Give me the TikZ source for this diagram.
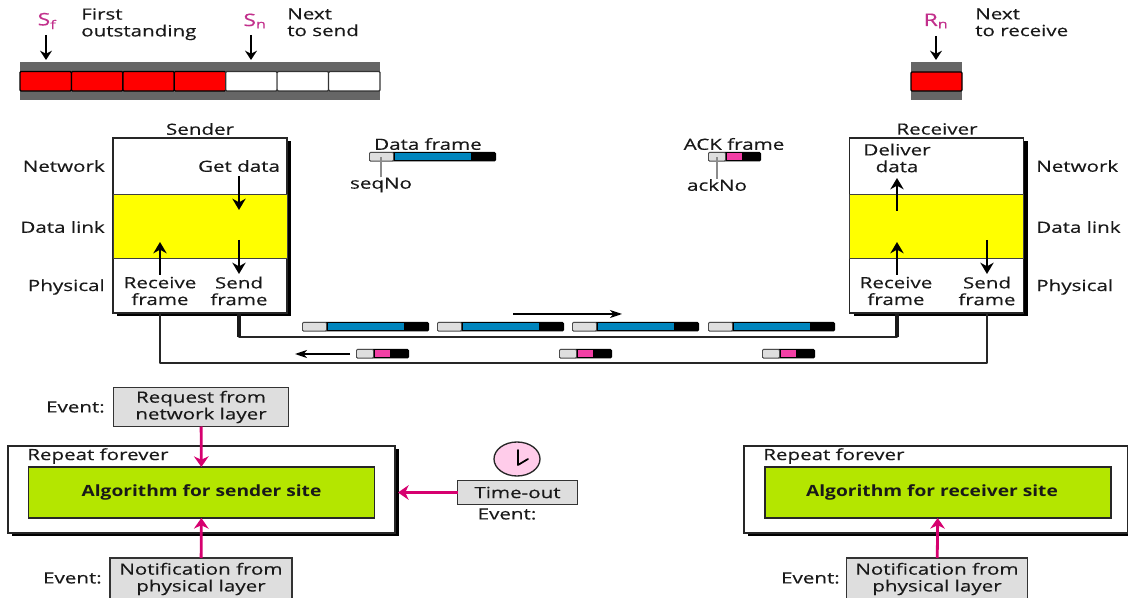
\documentclass[tikz,border=0pt]{standalone}
\usepackage{fontspec}
\setmainfont{Open Sans}[FakeStretch=1.33, FakeBold=0.35, BoldFeatures={FakeStretch=1.24, FakeBold=0}]
\usetikzlibrary{arrows.meta,shadows,shapes.geometric}

\definecolor{barGray}{HTML}{666666}
\definecolor{boxGray}{HTML}{DEDEDE}
\definecolor{algoGreen}{HTML}{B4E600}
\definecolor{frameBlue}{HTML}{0085BD}
\definecolor{framePink}{HTML}{F23FA5}
\definecolor{eventRed}{HTML}{D6006F}
\definecolor{seqMagenta}{HTML}{C2308C}
\definecolor{clockPink}{HTML}{FFCCEA}
\definecolor{layerYellow}{HTML}{FFFF00}
\definecolor{cellRed}{HTML}{FF0000}

\tikzset{
    sized/.style 2 args={minimum width=#1*0.75pt, minimum height=#2*0.75pt, inner sep=0pt, outer sep=0pt},
    lbl/.style={inner sep=0pt, align=center, text=black!90, font=\fontsize{11.6}{12.6}\selectfont},
    seqlbl/.style={inner sep=0pt, text=seqMagenta, font=\fontsize{13}{14}\selectfont},
    cell/.style={draw=black, line width=0.9pt, rounded corners=0.8pt},
    layerbox/.style={draw=black!85, line width=1pt, fill=white, general shadow={shadow xshift=3pt, shadow yshift=-2.4pt, fill=black}},
    band/.style={draw=black!75, line width=0.6pt, fill=layerYellow},
    eventbox/.style={draw=black!80, line width=1pt, fill=boxGray, align=center, text=black!90, font=\fontsize{11.6}{12.6}\selectfont},
    algobox/.style={draw=black!85, line width=1pt, fill=algoGreen, text=black!90, font=\fontsize{11.6}{13}\selectfont\bfseries},
    flow/.style={line width=1.3pt, -{Stealth[length=8.5pt, width=10pt]}},
    pointer/.style={line width=1.1pt, -{Stealth[length=7pt, width=9pt]}},
    travel/.style={line width=1pt, -{Stealth[length=9pt, width=6pt, inset=2.5pt]}},
    eventflow/.style={eventRed, line width=2.1pt, -{Stealth[length=8pt, width=11pt]}},
    wire/.style={draw=black!85, line width=1.6pt, line join=round},
    stub/.style={draw=black!90, line width=2.4pt},
    tick/.style={draw=black!45, line width=1pt},
}

\newcommand{\dataframe}[2]{
    \fill[black, rounded corners=1pt] (#1,#2) rectangle ++(127,9.5);
    \filldraw[fill=boxGray, draw=black!70, line width=0.6pt, rounded corners=0.8pt] (#1+0.5,#2+0.5) rectangle ++(24,8.5);
    \fill[frameBlue] (#1+26,#2+1) rectangle ++(76,7.5);
}
\newcommand{\ackframe}[2]{
    \fill[black, rounded corners=1pt] (#1,#2) rectangle ++(53,9.5);
    \filldraw[fill=boxGray, draw=black!70, line width=0.6pt, rounded corners=0.8pt] (#1+0.5,#2+0.5) rectangle ++(17,8.5);
    \fill[framePink] (#1+19,#2+1) rectangle ++(15,7.5);
}

\begin{document}
\begin{tikzpicture}[x=0.75pt, y=-0.75pt]
    \useasboundingbox (0,0) rectangle (1128,598);

    \fill[barGray] (20,62) rectangle (380,100);
    \fill[barGray] (911,62) rectangle (962,100);
    \foreach \x in {20,71.4,122.9,174.3} {
        \filldraw[cell, fill=cellRed] (\x,71.5) rectangle ++(51.4,19.5);
    }
    \foreach \x in {225.7,277.1,328.6} {
        \filldraw[cell, draw=black!80, fill=white] (\x,71.5) rectangle ++(51.4,19.5);
    }
    \filldraw[cell, fill=cellRed] (911,72) rectangle (962,91);

    \node[seqlbl] (sf) at (47,21) {S\textsubscript{f}};
    \node[seqlbl] (sn) at (255,21) {S\textsubscript{n}};
    \node[seqlbl] (rn) at (936,21) {R\textsubscript{n}};
    \coordinate (sfhead) at (46,60);
    \coordinate (snhead) at (251,60);
    \coordinate (rnhead) at (936,60);
    \coordinate (sftail) at (46,35);
    \coordinate (sntail) at (251,35);
    \coordinate (rntail) at (936,36);
    \draw[pointer] (sftail) -- (sfhead);
    \draw[pointer] (sntail) -- (snhead);
    \draw[pointer] (rntail) -- (rnhead);
    \node[lbl, anchor=north west, align=left] (firstout) at (81,8) {First\\outstanding};
    \node[lbl, anchor=north west, align=left] (nextsend) at (287,8) {Next\\to send};
    \node[lbl, anchor=north west, align=left] (nextrecv) at (975,8) {Next\\to receive};

    \node[layerbox, sized={174}{175}] (sender) at (200,225.5) {};
    \node[band, sized={174}{64}] (senderlink) at (200,226) {};
    \node[layerbox, sized={174}{175}] (receiver) at (936.5,225.5) {};
    \node[band, sized={174}{64}] (receiverlink) at (936.5,226) {};
    \node[lbl] (sendername) at (200,129) {Sender};
    \node[lbl] (receivername) at (937,129) {Receiver};

    \node[lbl, anchor=east] (snet) at (105,166) {Network};
    \node[lbl, anchor=east] (slink) at (105,227) {Data link};
    \node[lbl, anchor=east] (sphys) at (105,287) {Physical};
    \node[lbl, anchor=west] (rnet) at (1036,166) {Network};
    \node[lbl, anchor=west] (rlink) at (1036,227) {Data link};
    \node[lbl, anchor=west] (rphys) at (1036,287) {Physical};

    \node[lbl] (getdata) at (239,166) {Get data};
    \node[lbl] (sreceive) at (160,291) {Receive\\frame};
    \node[lbl] (ssend) at (239,291) {Send\\frame};
    \node[lbl] (deliver) at (897,158) {Deliver\\data};
    \node[lbl] (rreceive) at (896,291) {Receive\\frame};
    \node[lbl] (rsend) at (987,291) {Send\\frame};

    \coordinate (getin) at (239,176);
    \coordinate (getout) at (239,210);
    \coordinate (sendin) at (239,240);
    \coordinate (sendout) at (239,274);
    \coordinate (recvin) at (160,275);
    \coordinate (recvout) at (160,242);
    \coordinate (delin) at (897,211);
    \coordinate (delout) at (897,178);
    \coordinate (rrecvin) at (897,275);
    \coordinate (rrecvout) at (897,242);
    \coordinate (rsendin) at (987,240);
    \coordinate (rsendout) at (987,274);
    \draw[flow] (getin) -- (getout);
    \draw[flow] (sendin) -- (sendout);
    \draw[flow] (recvin) -- (recvout);
    \draw[flow] (delin) -- (delout);
    \draw[flow] (rrecvin) -- (rrecvout);
    \draw[flow] (rsendin) -- (rsendout);

    \coordinate (sendport) at (239,314);
    \coordinate (recvport) at (160,314);
    \coordinate (rrecvport) at (897,314);
    \coordinate (rsendport) at (987,314);
    \coordinate (sendbend) at (239,337);
    \coordinate (rrecvbend) at (897,337);
    \draw[wire] (sendport) -- (sendbend) -| (rrecvport);
    \draw[stub] (sendport) -- (sendbend);
    \draw[stub] (rrecvport) -- (rrecvbend);
    \draw[wire] (recvport) -- ++(0,49) -| (rsendport);

    \dataframe{369}{152}
    \ackframe{708}{152}
    \node[lbl] (dataname) at (428,144) {Data frame};
    \node[lbl] (ackname) at (734,144) {ACK frame};
    \node[lbl] (seqno) at (381,185) {seqNo};
    \node[lbl] (ackno) at (717,185) {ackNo};
    \coordinate (seqslot) at (381,157);
    \coordinate (ackslot) at (717,157);
    \draw[tick] (seqno) -- (seqslot);
    \draw[tick] (ackno) -- (ackslot);

    \dataframe{302}{322}
    \dataframe{437}{322}
    \dataframe{572}{322}
    \dataframe{708}{322}
    \ackframe{356}{349}
    \ackframe{559}{349}
    \ackframe{762}{349}
    \coordinate (goright) at (513,314);
    \coordinate (rightend) at (622,314);
    \coordinate (goleft) at (350,354);
    \coordinate (leftend) at (295,354);
    \draw[travel] (goright) -- (rightend);
    \draw[travel] (goleft) -- (leftend);

    \node[layerbox, sized={387}{87}] (srepeat) at (201.5,489.5) {};
    \node[layerbox, sized={384}{87}] (rrepeat) at (936,489.5) {};
    \node[lbl, anchor=west] (srepeatname) at (27,456) {Repeat forever};
    \node[lbl, anchor=west] (rrepeatname) at (763,456) {Repeat forever};
    \node[algobox, sized={346}{51}] (salgo) at (201.5,492.5) {Algorithm for sender site};
    \node[algobox, sized={346}{51}] (ralgo) at (938,492.5) {Algorithm for receiver site\hspace*{9pt}};

    \node[eventbox, sized={175}{39}] (request) at (201,407) {Request from\\network layer};
    \node[eventbox, sized={182}{42}] (snotify) at (201,579) {Notification from\\physical layer};
    \node[eventbox, sized={181}{42}] (rnotify) at (937,579) {Notification from\\physical layer};
    \node[eventbox, sized={120}{24}] (timeout) at (517.5,492.5) {Time-out};
    \node[lbl, anchor=east] (ev1) at (105,407) {Event:};
    \node[lbl, anchor=east] (ev2) at (102,578) {Event:};
    \node[lbl, anchor=east] (ev3) at (840,578) {Event:};
    \node[lbl] (ev4) at (507,514) {Event:};

    \draw[eventflow] (request) -- (salgo);
    \draw[eventflow] (snotify) -- (salgo);
    \draw[eventflow] (rnotify) -- (ralgo);
    \coordinate (timeouthead) at (398,492.5);
    \draw[eventflow] (timeout) -- (timeouthead);

    \node[ellipse, draw=black!85, line width=1pt, fill=clockPink, sized={46}{34}] (clock) at (517,459) {};
    \draw[line width=1.3pt, line cap=round, line join=round] (clock.center) ++(1,-9) -- ++(0,15) -- ++(10,-6);
\end{tikzpicture}
\end{document}
